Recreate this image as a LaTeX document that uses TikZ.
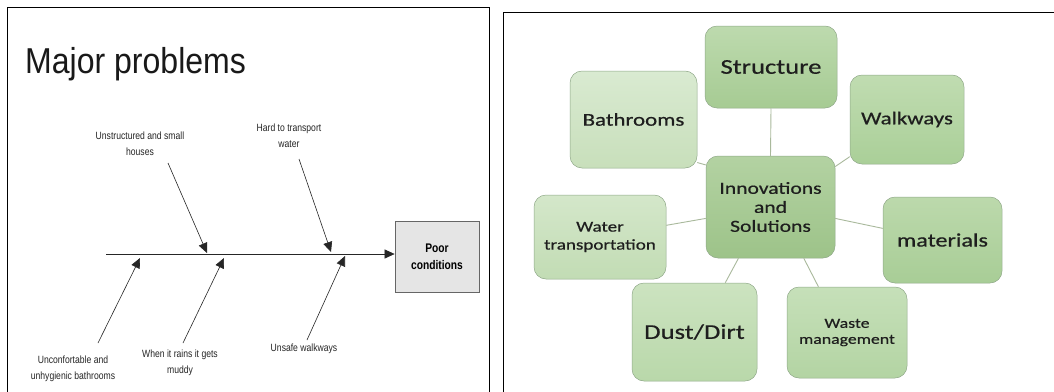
\documentclass[tikz,border=0pt]{standalone}
\usepackage{fontspec}
\setmainfont{Liberation Sans}
\newfontfamily\titlef[FakeStretch=0.89]{Liberation Sans}
\newfontfamily\narrowf[FakeStretch=0.82]{Liberation Sans}
\newfontfamily\calf[FakeStretch=1.27,FakeBold=0.6]{Carlito}
\usetikzlibrary{arrows.meta}
\definecolor{txt}{HTML}{1E1E1E}
\definecolor{gborder}{HTML}{8FA888}
\definecolor{glink}{HTML}{A9B99C}
\definecolor{stT}{HTML}{BDDAAE}\definecolor{stB}{HTML}{A6CB93}
\definecolor{baT}{HTML}{D9EAD1}\definecolor{baB}{HTML}{C8DFBB}
\definecolor{wkT}{HTML}{C0DCB1}\definecolor{wkB}{HTML}{AACF98}
\definecolor{ctT}{HTML}{B3D2A2}\definecolor{ctB}{HTML}{9DC389}
\definecolor{wtT}{HTML}{D4E7CA}\definecolor{wtB}{HTML}{C2DCB4}
\definecolor{maT}{HTML}{BCD9AC}\definecolor{maB}{HTML}{A8CD96}
\definecolor{ddT}{HTML}{CCE3C0}\definecolor{ddB}{HTML}{B9D8AA}
\definecolor{wsT}{HTML}{C6E0B9}\definecolor{wsB}{HTML}{B3D4A3}
\tikzset{
  bone/.style={draw=black!85, line width=0.6pt, -{Triangle[length=10pt,width=9pt]}},
  lbl/.style={font=\narrowf\fontsize{10.5}{16}\selectfont, text=black!85, align=center, inner sep=0pt},
  gbox/.style={draw=gborder, line width=0.5pt, rounded corners=12pt, inner sep=0pt, align=center, text=txt},
  glk/.style={draw=glink, line width=0.9pt},
}
\begin{document}
\begin{tikzpicture}[x=1pt,y=-1pt]
\useasboundingbox (0,0) rectangle (1054,391);
\fill[white] (0,0) rectangle (1054,391);
% panel frames
\draw[line width=0.9pt] (7,395) -- (7,7) -- (489,7) -- (489,395);
\draw[line width=0.9pt] (503,395) -- (503,12) -- (1058,12);
% ---------- left panel ----------
\node[anchor=base west, inner sep=0pt, font=\titlef\fontsize{36}{40}\selectfont, text=black!90] (title) at (25,73) {Major problems};
\node[draw=black!60, fill=black!10, line width=0.8pt, minimum width=84pt, minimum height=71pt, inner sep=0pt, align=center,
      font=\narrowf\bfseries\fontsize{12.5}{17}\selectfont] (effect) at (437,256.5) {Poor\\conditions};
\coordinate (spineS) at (106,254);
\draw[bone] (spineS) -- (effect.west |- spineS);
% upper bones
\coordinate (u1s) at (168,163); \coordinate (u1e) at (207,253);
\coordinate (u2s) at (299,159); \coordinate (u2e) at (331,252);
\draw[bone] (u1s) -- (u1e);
\draw[bone] (u2s) -- (u2e);
% lower bones
\coordinate (l1s) at (98,343);  \coordinate (l1e) at (140,258);
\coordinate (l2s) at (183,343); \coordinate (l2e) at (224,258);
\coordinate (l3s) at (307,340); \coordinate (l3e) at (345,256);
\draw[bone] (l1s) -- (l1e);
\draw[bone] (l2s) -- (l2e);
\draw[bone] (l3s) -- (l3e);
% labels
\node[lbl] (c1) at (140,143.5) {Unstructured and small\\houses};
\node[lbl] (c2) at (289,136) {Hard to transport\\water};
\node[lbl] (c3) at (73,369) {Unconfortable and\\unhygienic bathrooms};
\node[lbl] (c4) at (180,363) {When it rains it gets\\muddy};
\node[lbl] (c5) at (304,349) {Unsafe walkways};
% ---------- right panel ----------
\node[gbox, minimum width=132pt, minimum height=82pt, top color=stT, bottom color=stB,
      font=\calf\fontsize{21}{24}\selectfont] (st) at (771,67) {Structure};
\node[gbox, minimum width=127pt, minimum height=97pt, top color=baT, bottom color=baB,
      font=\calf\fontsize{18}{22}\selectfont] (bath) at (633.5,119.5) {Bathrooms};
\node[gbox, minimum width=114pt, minimum height=89pt, top color=wkT, bottom color=wkB,
      font=\calf\fontsize{18}{22}\selectfont] (wk) at (907,119.5) {Walkways};
\node[gbox, minimum width=129pt, minimum height=102pt, top color=ctT, bottom color=ctB,
      font=\calf\fontsize{17}{19}\selectfont] (ctr) at (770.5,207) {Innovations\\and\\Solutions};
\node[gbox, minimum width=132pt, minimum height=84pt, top color=wtT, bottom color=wtB,
      font=\calf\fontsize{15}{18}\selectfont] (wt) at (600,237) {Water\\transportation};
\node[gbox, minimum width=119pt, minimum height=86pt, top color=maT, bottom color=maB,
      font=\calf\fontsize{19}{22}\selectfont] (mat) at (942.5,240) {materials};
\node[gbox, minimum width=125pt, minimum height=98pt, top color=ddT, bottom color=ddB,
      font=\calf\fontsize{21}{24}\selectfont] (dd) at (694.5,332) {Dust/Dirt};
\node[gbox, minimum width=120pt, minimum height=91pt, top color=wsT, bottom color=wsB,
      font=\calf\fontsize{14}{16}\selectfont] (ws) at (847,332.5) {Waste\\management};
% connectors
\draw[glk] (st.south) -- (ctr.north);
\draw[glk] (bath.-34) -- (ctr.147);
\draw[glk] (wk.213) -- (ctr.32);
\draw[glk] (wt.10) -- (ctr.190);
\draw[glk] (mat.169) -- (ctr.-10);
\draw[glk] (dd.58) -- (ctr.238);
\draw[glk] (ws.122) -- (ctr.-57);
\end{tikzpicture}
\end{document}
